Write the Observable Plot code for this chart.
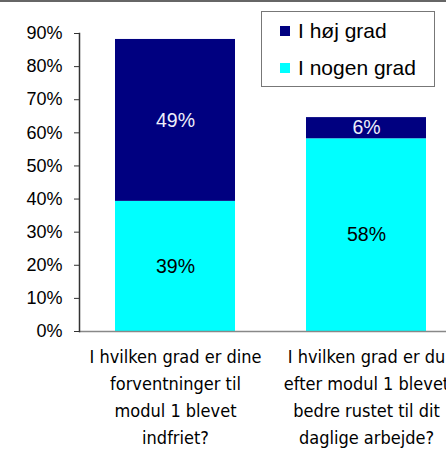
<!DOCTYPE html>
<html><head><meta charset="utf-8">
<script src="https://cdn.jsdelivr.net/npm/d3@7"></script>
<script src="https://cdn.jsdelivr.net/npm/@observablehq/plot@0.6"></script>
<style>
html,body{margin:0;padding:0;background:#fff}
#wrap{position:relative;width:446px;height:448px;border-top:2px solid #666;overflow:hidden}
#legend{position:absolute;left:261px;top:9px;width:172px;height:74px;border:1.5px solid #777;background:#fff;font-family:"Liberation Sans",Arial,sans-serif;font-size:21px;color:#000}
.row{display:flex;align-items:center;height:37px}
.sw{width:10px;height:10px;margin-left:18px;margin-right:8px}
</style>
</head><body>
<div id="wrap"><div id="chart"></div><div id="legend"></div></div>
<script>
const questions = [
  "I hvilken grad er dine\nforventninger til\nmodul 1 blevet\nindfriet?",
  "I hvilken grad er du\nefter modul 1 blevet\nbedre rustet til dit\ndaglige arbejde?"
];
const series = ["I nogen grad", "I høj grad"];
const nogenGrad = [39.3, 58.2];
const hojGrad = [48.9, 6.4];
const seriesColors = ["#00ffff", "#000080"];
const labelColors = ["#000000", "#eeeefa"];
const legendOrder = ["I høj grad", "I nogen grad"];
const yTicks = [0, 10, 20, 30, 40, 50, 60, 70, 80, 90];

const rows = [];
questions.forEach((q, i) => {
  rows.push({q, s: series[0], v: nogenGrad[i]});
  rows.push({q, s: series[1], v: hojGrad[i]});
});

const chart = Plot.plot({
  width: 446,
  height: 448,
  marginLeft: 79,
  marginRight: 0,
  marginTop: 31,
  marginBottom: 119,
  style: {fontFamily: "'Liberation Sans', Arial, sans-serif", background: "#fff"},
  x: {domain: questions, range: [79, 462], paddingInner: 0.37, paddingOuter: 0.1875, label: null, axis: null},
  y: {domain: [0, 90], label: null},
  color: {domain: series, range: seriesColors},
  marks: [
    Plot.barY(rows, Plot.stackY({x: "q", y: "v", fill: "s", order: series})),
    Plot.text(rows, Plot.stackY({
      x: "q", y: "v", order: series, z: "s",
      text: d => Math.round(d.v) + "%",
      fill: d => labelColors[series.indexOf(d.s)],
      fontSize: 19.5
    })),
    Plot.ruleY([0], {stroke: "#888", strokeWidth: 1.5}),
    Plot.frame({anchor: "left", stroke: "#333", strokeWidth: 1.5}),
    Plot.axisY({ticks: yTicks, tickFormat: d => d + "%", tickSize: 5, tickPadding: 12, fontSize: 18, stroke: "#333", color: "#000", strokeOpacity: 1}),
    Plot.text(questions, {
      x: d => d, text: d => d, frameAnchor: "bottom", lineAnchor: "top", dy: 12,
      lineHeight: 1.5, fontSize: 18, fontFamily: "'DejaVu Sans Condensed', 'DejaVu Sans', sans-serif", fill: "#000"
    })
  ]
});
document.getElementById("chart").appendChild(chart);

const leg = document.getElementById("legend");
legendOrder.forEach(name => {
  const r = document.createElement("div");
  r.className = "row";
  const sw = document.createElement("div");
  sw.className = "sw";
  sw.style.background = seriesColors[series.indexOf(name)];
  const t = document.createElement("span");
  t.textContent = name;
  r.appendChild(sw); r.appendChild(t);
  leg.appendChild(r);
});
</script>
</body></html>
